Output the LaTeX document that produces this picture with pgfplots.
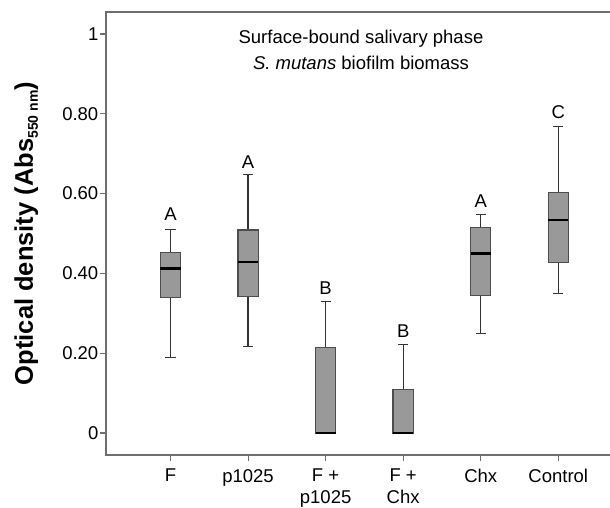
\documentclass[border=0pt]{standalone}
\usepackage{pgfplots}
\pgfplotsset{compat=1.18}
\usepgfplotslibrary{statistics}
\usepackage{fontspec}
\setmainfont{Liberation Sans}
\definecolor{boxfill}{HTML}{999999}
\definecolor{boxedge}{HTML}{4D4D4D}
\definecolor{axgray}{HTML}{6E6E6E}
\begin{document}
\begin{tikzpicture}[font=\fontsize{18.5bp}{22bp}\selectfont]
\begin{axis}[
  width=504bp, height=443bp, scale only axis,
  xmin=0.168, xmax=6.667, ymin=-0.0551, ymax=1.0551,
  clip=false,
  axis line style={draw=none},
  xtick={1,2,3,4,5,6},
  xticklabels={F, p1025, {F +\\p1025}, {F +\\Chx}, Chx, Control},
  ytick={0,0.2,0.4,0.6,0.8,1},
  yticklabels={0,0.20,0.40,0.60,0.80,1},
  xtick pos=left, ytick pos=left, tick align=outside,
  major tick length=5.5bp,
  tick style={axgray, line width=1.1bp},
  xticklabel style={align=center, inner sep=2bp, yshift=-6.5bp},
  yticklabel style={inner sep=2bp},
  ylabel={\fontsize{25.5bp}{28bp}\selectfont\bfseries Optical density (Abs\raisebox{-5bp}{\fontsize{14bp}{14bp}\selectfont\bfseries 550 nm})},
  every axis y label/.style={at={(rel axis cs:-0.158,0.5)}, rotate=90, anchor=center},
  boxplot/draw direction=y,
  boxplot/box extend=0.26,
  boxplot/whisker extend=0.13,
  boxplot/every box/.style={draw=boxedge, fill=boxfill, line width=1.2bp},
  boxplot/every median/.style={black, line width=2.6bp},
  boxplot/every whisker/.style={draw=black!80, fill=none, line width=1.3bp},
]
% F
\addplot[draw=boxedge, fill=boxfill, boxplot prepared={lower whisker=0.189, lower quartile=0.339, median=0.413, upper quartile=0.452, upper whisker=0.510, draw position=1}] coordinates {};
% p1025
\addplot[draw=boxedge, fill=boxfill, boxplot prepared={lower whisker=0.217, lower quartile=0.342, median=0.429, upper quartile=0.509, upper whisker=0.648, draw position=2}] coordinates {};
% F + p1025
\addplot[draw=boxedge, fill=boxfill, boxplot prepared={lower whisker=0, lower quartile=0, median=0, upper quartile=0.214, upper whisker=0.329, draw position=3}] coordinates {};
% F + Chx
\addplot[draw=boxedge, fill=boxfill, boxplot prepared={lower whisker=0, lower quartile=0, median=0, upper quartile=0.110, upper whisker=0.221, draw position=4}] coordinates {};
% Chx
\addplot[draw=boxedge, fill=boxfill, boxplot prepared={lower whisker=0.250, lower quartile=0.345, median=0.450, upper quartile=0.516, upper whisker=0.548, draw position=5}] coordinates {};
% Control
\addplot[draw=boxedge, fill=boxfill, boxplot prepared={lower whisker=0.350, lower quartile=0.428, median=0.534, upper quartile=0.603, upper whisker=0.769, draw position=6}] coordinates {};

\draw[axgray, line width=1.2bp] (rel axis cs:1,1) -- (rel axis cs:0,1) -- (rel axis cs:0,0) -- (rel axis cs:1,0);

\node[anchor=base] at (axis cs:1,0.532) {A};
\node[anchor=base] at (axis cs:2,0.664) {A};
\node[anchor=base] at (axis cs:3,0.348) {B};
\node[anchor=base] at (axis cs:4,0.240) {B};
\node[anchor=base] at (axis cs:5,0.564) {A};
\node[anchor=base] at (axis cs:6,0.787) {C};

\node[anchor=base] at (axis cs:3.456,0.977) {Surface-bound salivary phase};
\node[anchor=base] at (axis cs:3.456,0.910) {\textit{S. mutans} biofilm biomass};

\coordinate (bbsw) at (rel axis cs:-0.2103,-0.1174);
\coordinate (bbne) at (rel axis cs:1,1.0271);
\end{axis}
\pgfresetboundingbox
\useasboundingbox (bbsw) rectangle (bbne);
\end{tikzpicture}
\end{document}
